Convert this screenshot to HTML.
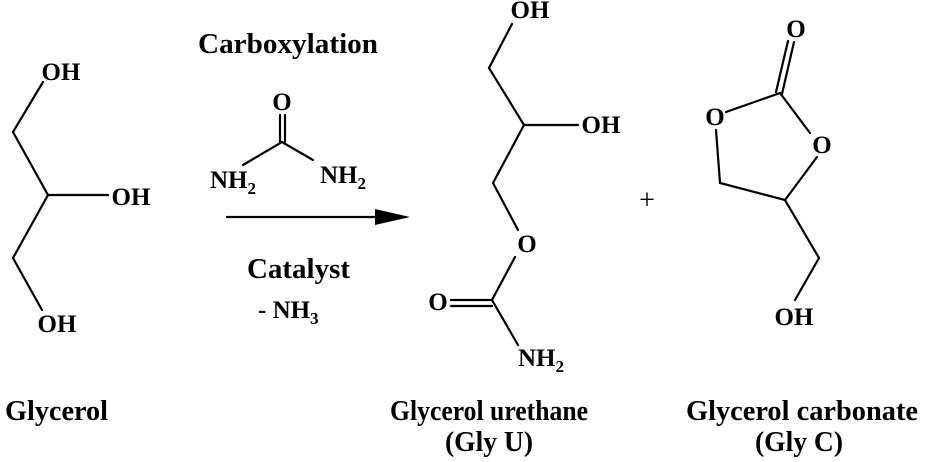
<!DOCTYPE html>
<html><head><style>body{margin:0;background:#fff}svg{display:block}</style></head><body>
<svg width="926" height="462" viewBox="0 0 926 462" xmlns="http://www.w3.org/2000/svg">
<g stroke="#000" stroke-width="2.2" fill="none" stroke-linecap="round">
<polyline points="43,82 13,132 48,195 13,258 42,310"/>
<line x1="48" y1="195" x2="108" y2="195"/>
<line x1="280" y1="115" x2="280" y2="142"/><line x1="285" y1="115" x2="285" y2="142"/>
<polyline points="243,165 282,142 313,160"/>
<line x1="227" y1="217" x2="380" y2="217"/>
<polyline points="512,24 489,68 524,125 493,183 518,230"/>
<line x1="524" y1="125" x2="578" y2="125"/>
<polyline points="515,257 492,300 518,345"/>
<line x1="451" y1="300" x2="492" y2="300"/><line x1="451" y1="306" x2="492" y2="306"/>
<line x1="776" y1="92" x2="788" y2="41"/><line x1="782" y1="94" x2="794" y2="42"/>
<polyline points="726,112 780,93 810,133"/>
<polyline points="817,157 785,200 720,183 716,130"/>
<polyline points="785,200 819,258 795,300"/>
</g>
<polygon points="375,209 410,217 375,225" fill="#000"/>
<g font-family="Liberation Serif, serif" font-weight="bold" font-size="25" fill="#000">
<text x="61" y="80" text-anchor="middle">OH</text>
<text x="131" y="205" text-anchor="middle">OH</text>
<text x="57" y="332" text-anchor="middle">OH</text>
<text x="282" y="110" text-anchor="middle">O</text>
<text x="210" y="188">NH<tspan font-size="17" dy="6">2</tspan></text>
<text x="320" y="183">NH<tspan font-size="17" dy="6">2</tspan></text>
<text x="258" y="318">- NH<tspan font-size="17" dy="6">3</tspan></text>
<text x="530" y="18" text-anchor="middle">OH</text>
<text x="601" y="133" text-anchor="middle">OH</text>
<text x="527" y="252" text-anchor="middle">O</text>
<text x="438" y="310" text-anchor="middle">O</text>
<text x="518" y="366">NH<tspan font-size="17" dy="6">2</tspan></text>
<text x="647" y="209" text-anchor="middle" font-weight="normal" font-size="28">+</text>
<text x="796" y="37" text-anchor="middle">O</text>
<text x="715" y="125" text-anchor="middle">O</text>
<text x="822" y="153" text-anchor="middle">O</text>
<text x="794" y="325" text-anchor="middle">OH</text>
</g>
<g font-family="Liberation Serif, serif" font-weight="bold" font-size="29" fill="#000">
<text x="198" y="53" textLength="180" lengthAdjust="spacingAndGlyphs">Carboxylation</text>
<text x="247" y="278" textLength="103" lengthAdjust="spacingAndGlyphs">Catalyst</text>
<text x="5" y="420" textLength="103" lengthAdjust="spacingAndGlyphs">Glycerol</text>
<text x="390" y="420" textLength="198" lengthAdjust="spacingAndGlyphs">Glycerol urethane</text>
<text x="445" y="451" textLength="88" lengthAdjust="spacingAndGlyphs">(Gly U)</text>
<text x="686" y="420" textLength="232" lengthAdjust="spacingAndGlyphs">Glycerol carbonate</text>
<text x="755" y="451" textLength="88" lengthAdjust="spacingAndGlyphs">(Gly C)</text>
</g>
</svg>
</body></html>
